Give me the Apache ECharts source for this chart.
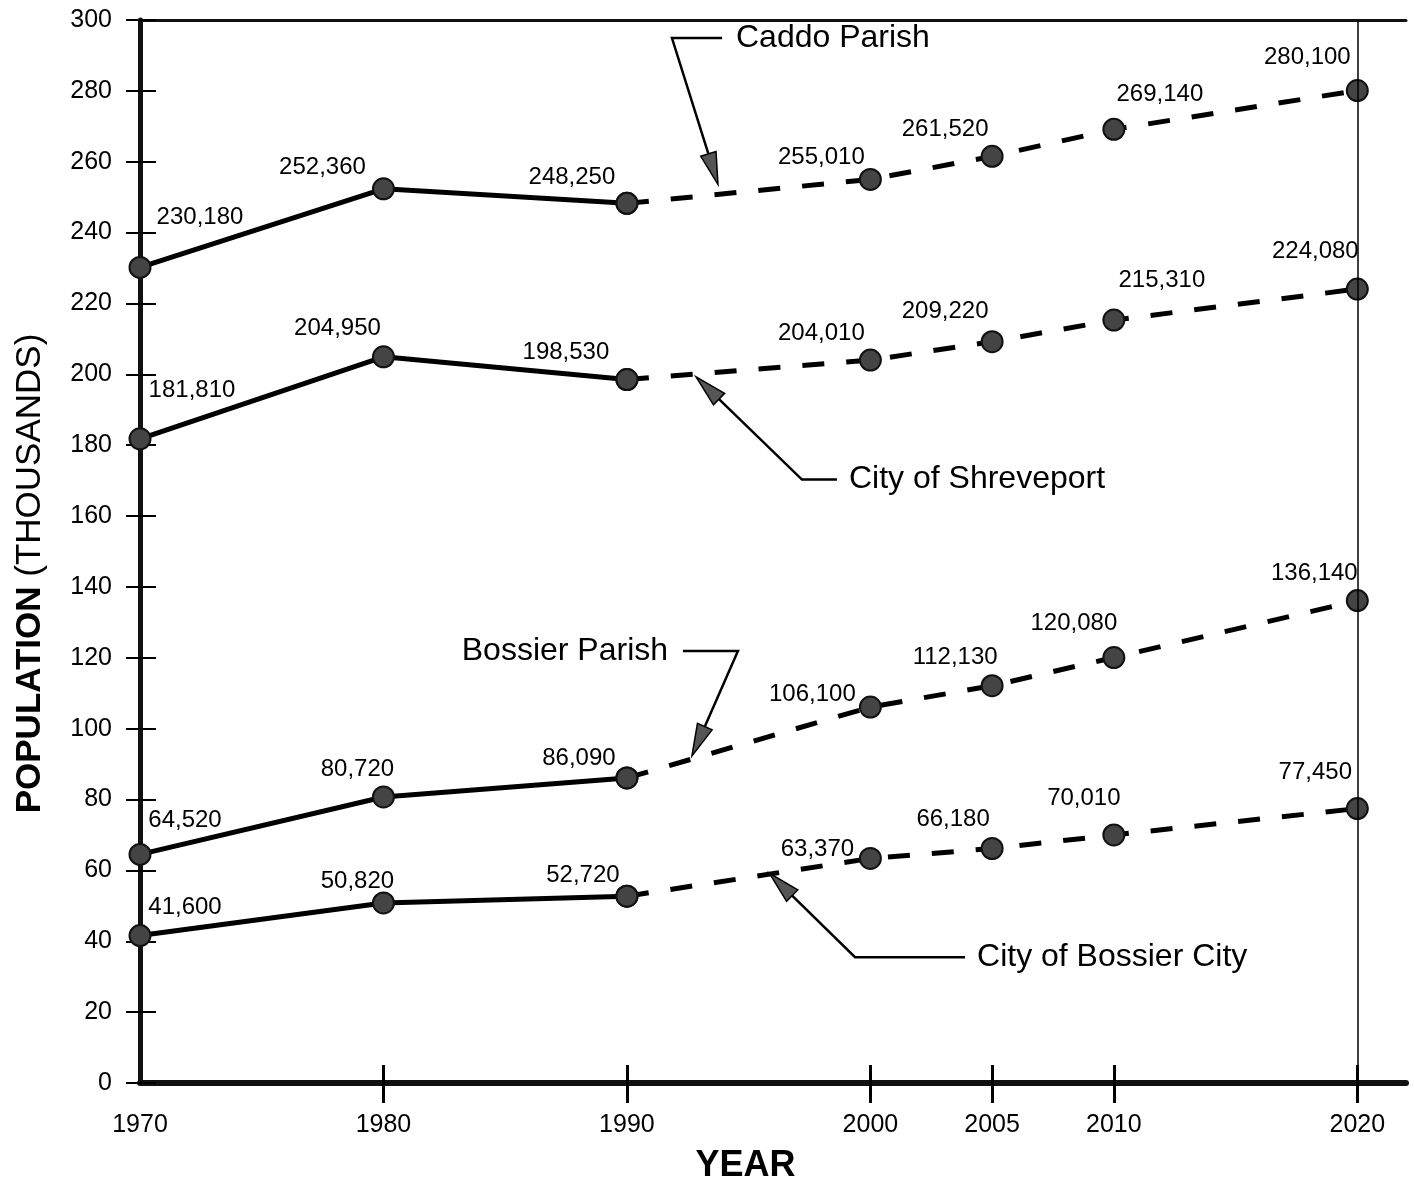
<!DOCTYPE html>
<html>
<head>
<meta charset="utf-8">
<script src="https://cdn.jsdelivr.net/npm/echarts@6/dist/echarts.min.js"></script>
<style>
html,body{margin:0;padding:0;background:#fff;}
#main{width:1414px;height:1189px;}
</style>
</head>
<body>
<div id="main"></div>
<script>
// ---- data (population in thousands) ----
var years = [1970, 1980, 1990, 2000, 2005, 2010, 2020];
var yearTicks = [1970, 1980, 1990, 2000, 2005, 2010, 2020];
var caddoParish = [230.18, 252.36, 248.25, 255.01, 261.52, 269.14, 280.10];
var cityOfShreveport = [181.81, 204.95, 198.53, 204.01, 209.22, 215.31, 224.08];
var bossierParish = [64.52, 80.72, 86.09, 106.10, 112.13, 120.08, 136.14];
var cityOfBossierCity = [41.60, 50.82, 52.72, 63.37, 66.18, 70.01, 77.45];
var lastObservedIndex = 2; // 1990: solid before, projection (dashed) after

// ---- layout (label offsets relative to markers) ----
var labelOffsets = {
  caddo: [[60,-50],[-61,-21],[-55,-26],[-49,-22],[-47,-27],[46,-35],[-50,-33]],
  shreveport: [[52,-48],[-46,-28],[-61,-27],[-49,-27],[-47,-30],[48,-40],[-42,-38]],
  bossierParish: [[45,-34],[-26,-28],[-48,-20],[-58,-13],[-37,-28],[-40,-34],[-43,-27]],
  bossierCity: [[45,-28],[-26,-22],[-44,-21],[-53,-9],[-39,-29],[-30,-37],[-42,-36]]
};

var FONT = 'Liberation Sans, Arial, Helvetica, sans-serif';

function fmt(v) { return Math.round(v * 1000).toLocaleString('en-US'); }

function makeSeries(name, values, offsets) {
  var solid = [], dashed = [];
  for (var i = 0; i < years.length; i++) {
    var item = { value: [years[i], values[i]], label: { offset: offsets[i] } };
    if (i <= lastObservedIndex) solid.push(item);
    if (i >= lastObservedIndex) {
      var d = { value: [years[i], values[i]], label: { offset: offsets[i], show: i > lastObservedIndex } };
      dashed.push(d);
    }
  }
  var common = {
    type: 'line',
    symbol: 'circle',
    symbolSize: 21,
    itemStyle: { color: '#444', borderColor: '#111', borderWidth: 2 },
    label: {
      show: true, position: 'inside', color: '#000', fontSize: 24, fontFamily: FONT,
      formatter: function (p) { return fmt(p.value[1]); }
    },
    emphasis: { disabled: true },
    animation: false,
    z: 3
  };
  var s1 = Object.assign({}, common, {
    name: name, data: solid,
    lineStyle: { color: '#000', width: 5, type: 'solid' }
  });
  var s2 = Object.assign({}, common, {
    name: name + ' (projected)', data: dashed,
    lineStyle: { color: '#000', width: 5, type: [22, 22] }
  });
  return [s1, s2];
}

var series = []
  .concat(makeSeries('Caddo Parish', caddoParish, labelOffsets.caddo))
  .concat(makeSeries('City of Shreveport', cityOfShreveport, labelOffsets.shreveport))
  .concat(makeSeries('Bossier Parish', bossierParish, labelOffsets.bossierParish))
  .concat(makeSeries('City of Bossier City', cityOfBossierCity, labelOffsets.bossierCity));

// thin vertical line at 2020
series[0].markLine = {
  silent: true, symbol: 'none', animation: false,
  label: { show: false },
  lineStyle: { color: '#000', width: 1.5, type: 'solid' },
  data: [{ xAxis: 2020 }]
};

var chart = echarts.init(document.getElementById('main'), null, { renderer: 'canvas' });

var option = {
  backgroundColor: '#fff',
  animation: false,
  grid: { left: 140, right: 8, top: 20, bottom: 103 },
  xAxis: [
    {
      type: 'value', min: 1970, max: 2022, position: 'bottom',
      axisLine: { show: true, lineStyle: { color: '#111', width: 6 } },
      axisTick: { show: true, inside: false, length: 20, lineStyle: { color: '#000', width: 3 }, customValues: yearTicks.slice(1) },
      axisLabel: { show: true, color: '#000', fontSize: 25, fontFamily: FONT, margin: 30, customValues: yearTicks, formatter: function (v) { return String(v); } },
      splitLine: { show: false },
      name: 'YEAR', nameLocation: 'middle', nameGap: 65,
      nameTextStyle: { fontSize: 36, fontWeight: 'bold', color: '#000', fontFamily: FONT, padding: [0, 55, 0, 0] }
    },
    {
      type: 'value', min: 1970, max: 2022, position: 'bottom',
      axisLine: { show: false },
      axisTick: { show: true, inside: true, length: 18, lineStyle: { color: '#000', width: 3 }, customValues: yearTicks.slice(1) },
      axisLabel: { show: false },
      splitLine: { show: false }
    },
    {
      type: 'value', min: 1970, max: 2022, position: 'top',
      axisLine: { show: true, lineStyle: { color: '#111', width: 3 } },
      axisTick: { show: false }, axisLabel: { show: false }, splitLine: { show: false }
    }
  ],
  yAxis: [
    {
      type: 'value', min: 0, max: 300, interval: 20, position: 'left',
      axisLine: { show: true, lineStyle: { color: '#111', width: 5 } },
      axisTick: { show: true, inside: false, length: 14, lineStyle: { color: '#000', width: 2 } },
      axisLabel: { color: '#000', fontSize: 25, fontFamily: FONT, margin: 28 },
      splitLine: { show: false },
      name: '{b|POPULATION}{n|\u00a0(THOUSANDS)}', nameLocation: 'middle', nameGap: 92, nameRotate: 90,
      nameTextStyle: {
        fontFamily: FONT, color: '#000', padding: [0, 44, 0, 0],
        rich: {
          b: { fontSize: 35, fontWeight: 'bold', fontFamily: FONT, color: '#000' },
          n: { fontSize: 35, fontWeight: 'normal', fontFamily: FONT, color: '#000' }
        }
      }
    },
    {
      type: 'value', min: 0, max: 300, interval: 20, position: 'left',
      axisLine: { show: false },
      axisTick: { show: true, inside: true, length: 16, lineStyle: { color: '#000', width: 2 } },
      axisLabel: { show: false }, splitLine: { show: false }
    }
  ],
  series: series
};
chart.setOption(option);

// ---- annotations with arrows, anchored in data coordinates ----
var annotations = [
  { text: 'Caddo Parish', textAt: [1994.48, 294.9], align: 'left',
    path: [[1993.91, 294.9], [1991.85, 294.9], [1993.74, 253.6]] },
  { text: 'City of Shreveport', textAt: [1999.12, 170.3], align: 'left',
    path: [[1998.63, 170.3], [1997.19, 170.3], [1992.84, 199.3]] },
  { text: 'Bossier Parish', textAt: [1991.69, 121.9], align: 'right',
    path: [[1992.30, 121.9], [1994.56, 121.9], [1992.67, 92.3]] },
  { text: 'City of Bossier City', textAt: [2004.38, 35.5], align: 'left',
    path: [[2003.89, 35.5], [1999.37, 35.5], [1995.85, 59.2]] }
];

function px(pt) { return chart.convertToPixel({ xAxisIndex: 0, yAxisIndex: 0 }, pt); }

var elements = [];
annotations.forEach(function (a) {
  var pts = a.path.map(px);
  var tip = pts[pts.length - 1], prev = pts[pts.length - 2];
  var dx = tip[0] - prev[0], dy = tip[1] - prev[1];
  var len = Math.sqrt(dx * dx + dy * dy); dx /= len; dy /= len;
  var L = 32, W = 8;
  var base = [tip[0] - dx * L, tip[1] - dy * L];
  var head = [tip, [base[0] - dy * W, base[1] + dx * W], [base[0] + dy * W, base[1] - dx * W]];
  var linePts = pts.slice(0, -1).concat([[tip[0] - dx * (L - 4), tip[1] - dy * (L - 4)]]);
  elements.push({ type: 'polyline', shape: { points: linePts }, style: { stroke: '#000', lineWidth: 2.5, fill: null }, z: 10 });
  elements.push({ type: 'polygon', shape: { points: head }, style: { fill: '#555', stroke: '#000', lineWidth: 1.5 }, z: 10 });
  var tp = px(a.textAt);
  elements.push({ type: 'text', x: tp[0], y: tp[1], z: 10,
    style: { text: a.text, fill: '#000', font: '32px ' + FONT, textAlign: a.align, textVerticalAlign: 'middle' } });
});
chart.setOption({ graphic: { elements: elements } });
</script>
</body>
</html>
